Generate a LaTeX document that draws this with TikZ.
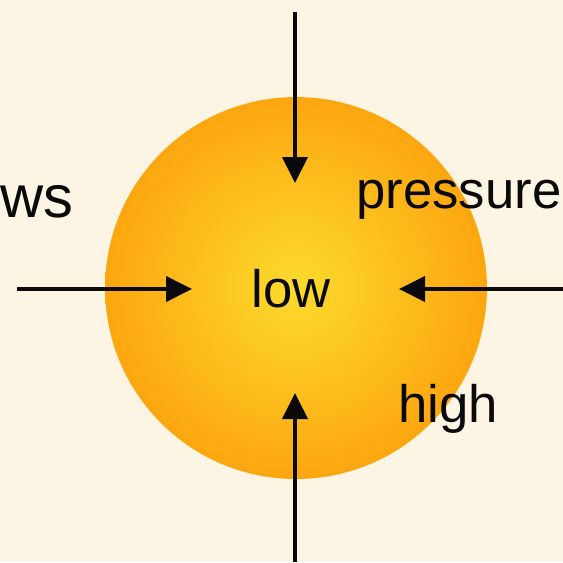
\documentclass[tikz,border=0pt]{standalone}
\usepackage{fontspec}
\setmainfont{Liberation Sans}
\usepackage{tikz}
\usetikzlibrary{positioning,arrows.meta,calc}
\definecolor{paper}   {HTML}{FDF5E4}
\definecolor{suncore} {HTML}{FDDB2D}
\definecolor{sunrim}  {HTML}{FDA610}
\definecolor{ink}     {HTML}{0A0A0A}
\tikzset{
  % --- nodes
  disc/.style  = {circle, minimum size=7.64cm, inner sep=0pt,
                  inner color=suncore, outer color=sunrim},
  word/.style  = {anchor=base west, inner sep=0pt, text=ink,
                  font=\fontsize{30}{36}\selectfont},
  bigword/.style = {word, font=\fontsize{34}{40}\selectfont},
  % --- edges
  push/.style  = {-{Triangle[width=0.5cm,length=0.52cm]}, line width=0.08cm, draw=ink},
}
\begin{document}
\begin{tikzpicture}[x=0.02cm,y=-0.02cm]
  \fill[paper] (0,0) rectangle (563,562);
  \useasboundingbox (0,0) rectangle (563,562);
  \clip (0,0) rectangle (563,562);

  \node[disc] (sun) at (296,288) {};

  \node[word] (low)   at (251,307) {low};
  \node[word] (high)  at (398,422) {high};
  \node[bigword] (ws) at (0,217)   {ws};
  \node[word] (press) at (356,208) {pressure};

  \coordinate (n-from) at (295,12);  \coordinate (n-to) at (295,183);
  \coordinate (w-from) at (17,289);  \coordinate (w-to) at (192,289);
  \coordinate (e-from) at (563,289); \coordinate (e-to) at (399,289);
  \coordinate (s-from) at (295,562); \coordinate (s-to) at (295,393);

  \draw[push] (n-from) -- (n-to); \draw[push] (w-from) -- (w-to);
  \draw[push] (e-from) -- (e-to); \draw[push] (s-from) -- (s-to);
\end{tikzpicture}
\end{document}
